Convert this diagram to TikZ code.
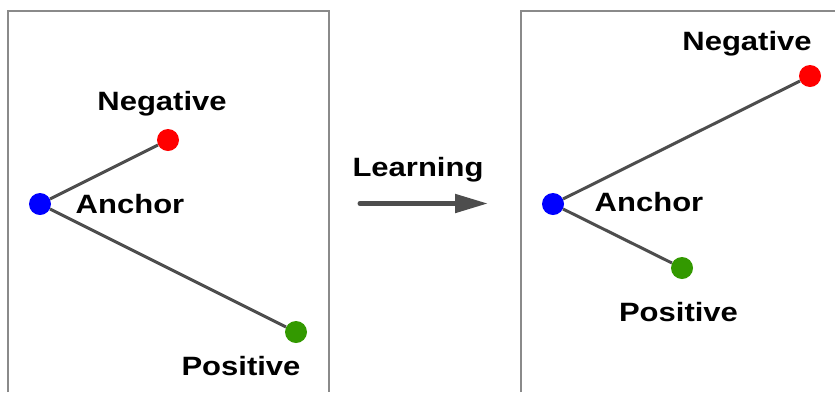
\documentclass[tikz,border=0pt]{standalone}
\usepackage{fontspec}
\newfontfamily\labfont{Liberation Sans}[FakeStretch=1.17]
\usetikzlibrary{arrows.meta}
\definecolor{boxgray}{HTML}{8A8A8A}
\definecolor{linegray}{HTML}{4D4D4D}
\definecolor{ptgreen}{HTML}{339900}
\tikzset{
  pt/.style={circle,inner sep=0pt,minimum size=22pt},
  lab/.style={anchor=base,inner sep=0pt,font=\labfont\bfseries\fontsize{26.5}{30}\selectfont},
  conn/.style={draw=linegray,line width=3pt},
  frame/.style={draw=boxgray,line width=1.5pt}
}
\begin{document}
\begin{tikzpicture}[x=1pt,y=-1pt]
\useasboundingbox (0,0) rectangle (835,392);
\fill[white] (0,0) rectangle (835,392);
% frames
\draw[frame] (8,392) -- (8,11) -- (329,11) -- (329,392);
\draw[frame] (521,392) -- (521,11) -- (835,11);
% left
\node[pt,fill=blue] (a1) at (40,204) {};
\node[pt,fill=red] (n1) at (168,140) {};
\node[pt,fill=ptgreen] (p1) at (296,332) {};
\draw[conn] (a1) -- (n1);
\draw[conn] (a1) -- (p1);
\node[lab] (ln1) at (162,110) {Negative};
\node[lab] (la1) at (130,213) {Anchor};
\node[lab] (lp1) at (241,375) {Positive};
% right
\node[pt,fill=blue] (a2) at (553,204) {};
\node[pt,fill=red] (n2) at (810,76) {};
\node[pt,fill=ptgreen] (p2) at (682,268) {};
\draw[conn] (a2) -- (n2);
\draw[conn] (a2) -- (p2);
\node[lab] (ln2) at (747,50) {Negative};
\node[lab] (la2) at (649,211.5) {Anchor};
\node[lab] (lp2) at (678.5,321.5) {Positive};
% arrow
\coordinate (s) at (360,203.5);
\coordinate (e) at (488,203.5);
\draw[draw=linegray,fill=linegray,line width=5pt,line cap=round,-{Triangle[length=33pt,width=18pt]}] (s) -- (e);
\node[lab] (learn) at (418,176) {Learning};
\end{tikzpicture}
\end{document}
